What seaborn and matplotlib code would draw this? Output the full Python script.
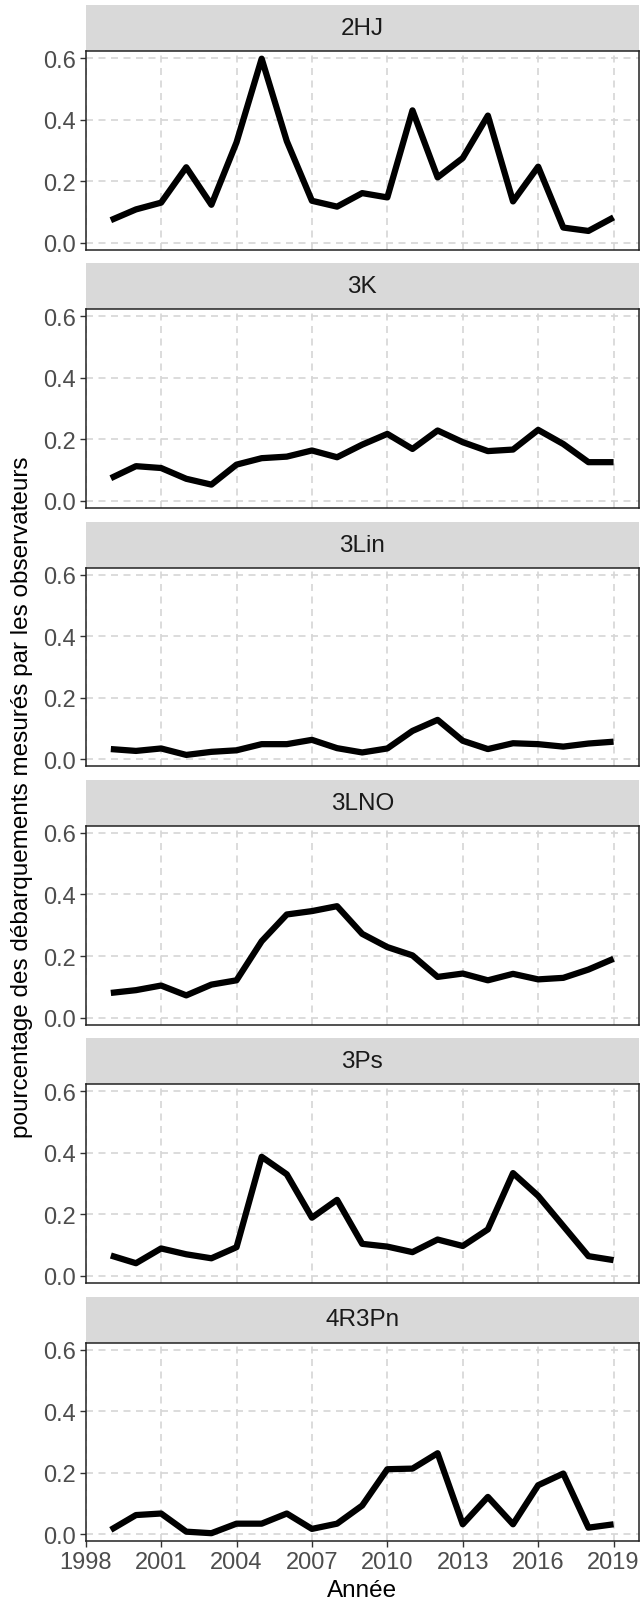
import matplotlib
matplotlib.use("Agg")
import numpy as np
import pandas as pd
import seaborn as sns
import matplotlib.pyplot as plt
from matplotlib.patches import Rectangle

years = list(range(1999, 2020))
zones = ["2HJ", "3K", "3Lin", "3LNO", "3Ps", "4R3Pn"]

v_2HJ = [0.073, 0.108, 0.130, 0.245, 0.123, 0.326, 0.598, 0.330, 0.136, 0.117, 0.161,
         0.147, 0.430, 0.212, 0.275, 0.413, 0.134, 0.247, 0.049, 0.038, 0.082]
v_3K = [0.074, 0.113, 0.107, 0.072, 0.053, 0.118, 0.139, 0.144, 0.164, 0.142, 0.183,
        0.218, 0.169, 0.229, 0.191, 0.162, 0.167, 0.231, 0.185, 0.126, 0.126]
v_3Lin = [0.033, 0.027, 0.035, 0.014, 0.024, 0.029, 0.049, 0.049, 0.063, 0.036, 0.022,
          0.035, 0.092, 0.128, 0.060, 0.033, 0.052, 0.049, 0.041, 0.051, 0.057]
v_3LNO = [0.080, 0.089, 0.104, 0.072, 0.107, 0.121, 0.248, 0.335, 0.346, 0.362, 0.272,
          0.229, 0.202, 0.132, 0.143, 0.121, 0.142, 0.124, 0.129, 0.156, 0.191]
v_3Ps = [0.066, 0.041, 0.089, 0.070, 0.057, 0.093, 0.387, 0.330, 0.189, 0.247, 0.104,
         0.095, 0.077, 0.118, 0.097, 0.151, 0.334, 0.260, 0.162, 0.064, 0.051]
v_4R3Pn = [0.014, 0.062, 0.067, 0.008, 0.003, 0.034, 0.034, 0.067, 0.017, 0.034, 0.093,
           0.211, 0.213, 0.263, 0.032, 0.121, 0.032, 0.159, 0.197, 0.021, 0.032]

x_ticks = [1998, 2001, 2004, 2007, 2010, 2013, 2016, 2019]
y_ticks = [0.0, 0.2, 0.4, 0.6]
y_tick_labels = ["0.0", "0.2", "0.4", "0.6"]

series = {"2HJ": v_2HJ, "3K": v_3K, "3Lin": v_3Lin, "3LNO": v_3LNO,
          "3Ps": v_3Ps, "4R3Pn": v_4R3Pn}
df = pd.DataFrame([(z, y, v) for z in zones for y, v in zip(years, series[z])],
                  columns=["zone", "year", "value"])

sns.set_theme(style="white")
plt.rcParams["font.family"] = ["Liberation Sans", "DejaVu Sans"]

W, H = 640, 1608
fig = plt.figure(figsize=(W / 100, H / 100), dpi=100)

left_px, right_px = 85.7, 638.7
panel_h = 198.7
strip_h = 46.0
period = 258.3
first_top = 52.0

grid_col = "#D6D6D6"
for i, z in enumerate(zones):
    top = first_top + i * period
    bottom = top + panel_h
    ax = fig.add_axes([left_px / W, 1 - bottom / H, (right_px - left_px) / W, panel_h / H])
    sub = df[df.zone == z]
    sns.lineplot(data=sub, x="year", y="value", ax=ax, color="black", linewidth=4.5,
                 errorbar=None, solid_joinstyle="round", solid_capstyle="butt", zorder=3)
    ax.set_xlim(1998, 2020)
    ax.set_ylim(-0.023, 0.623)
    ax.set_xticks(x_ticks)
    ax.set_yticks(y_ticks)
    ax.set_yticklabels(y_tick_labels)
    ax.set_xlabel("")
    ax.set_ylabel("")
    for xv in x_ticks:
        ax.axvline(xv, color=grid_col, lw=1.2, linestyle=(0, (4.2, 3.3)), zorder=1)
    for yv in y_ticks:
        ax.axhline(yv, color=grid_col, lw=1.2, linestyle=(0, (4.2, 3.3)), zorder=1)
    for s in ax.spines.values():
        s.set_color("#222222")
        s.set_linewidth(1.1)
        s.set_visible(True)
    ax.tick_params(axis="y", left=True, length=4.6, width=1.0, color="#333333",
                   labelsize=17, labelcolor="#4D4D4D", pad=2.5)
    if i < len(zones) - 1:
        ax.tick_params(axis="x", bottom=False, labelbottom=False)
    else:
        ax.set_xticklabels([str(t) for t in x_ticks])
        ax.tick_params(axis="x", bottom=True, length=4.6, width=1.0, color="#333333",
                       labelsize=17, labelcolor="#4D4D4D", pad=2.5)
    sh = strip_h / panel_h
    ax.add_patch(Rectangle((0, 1), 1, sh, transform=ax.transAxes, facecolor="#D9D9D9",
                           edgecolor="none", clip_on=False, zorder=0))
    ax.text(0.5, 1 + sh / 2, z, transform=ax.transAxes, ha="center", va="center",
            fontsize=17.5, color="#1A1A1A")

fig.text(22 / W, 1 - ((first_top + 5 * period + panel_h + first_top) / 2) / H,
         "pourcentage des débarquements mesurés par les observateurs",
         rotation=90, ha="center", va="center", fontsize=17.5, color="black")
fig.text(((left_px + right_px) / 2) / W, 1 - 1591 / H, "Année",
         ha="center", va="center", fontsize=17.5, color="black")

fig.savefig("out.png", dpi=100, facecolor="white")
